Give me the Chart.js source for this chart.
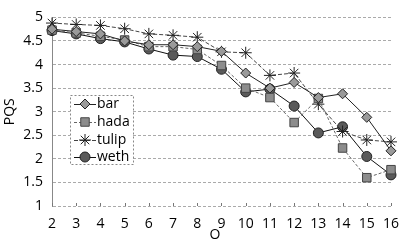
<!DOCTYPE html>
<html>
<head>
<meta charset="utf-8">
<script src="https://cdn.jsdelivr.net/npm/chart.js@4.4.0/dist/chart.umd.min.js"></script>
<style>
  html, body { margin: 0; padding: 0; background: #fff; }
  #wrap { width: 409px; height: 242px; }
</style>
</head>
<body>
<div id="wrap"><canvas id="myChart" width="409" height="242"></canvas></div>
<script>
const xLabels = ['2', '3', '4', '5', '6', '7', '8', '9', '10', '11', '12', '13', '14', '15', '16'];
const barValues = [4.75, 4.70, 4.65, 4.50, 4.42, 4.42, 4.38, 4.28, 3.82, 3.50, 3.62, 3.30, 3.38, 2.88, 2.17];
const hadaValues = [4.73, 4.67, 4.60, 4.52, 4.38, 4.38, 4.32, 3.98, 3.50, 3.30, 2.77, 3.28, 2.23, 1.60, 1.77];
const tulipValues = [4.88, 4.85, 4.83, 4.76, 4.65, 4.62, 4.58, 4.27, 4.25, 3.77, 3.82, 3.16, 2.58, 2.40, 2.36];
const wethValues = [4.72, 4.65, 4.55, 4.48, 4.33, 4.20, 4.17, 3.90, 3.42, 3.48, 3.12, 2.55, 2.68, 2.05, 1.66];
const seriesNames = ['bar', 'hada', 'tulip', 'weth'];
const yTitle = 'PQS';
const xTitle = 'O';

const FONT = "'Open Sans', 'Noto Sans', sans-serif";

// little helper so the legend can draw the same markers as the chart
function drawMarker(ctx, ds, x, y) {
  const opts = {
    pointStyle: ds.pointStyle,
    radius: ds.pointRadius,
    borderWidth: ds.pointBorderWidth,
    rotation: 0
  };
  ctx.save();
  ctx.fillStyle = ds.pointBackgroundColor;
  ctx.strokeStyle = ds.pointBorderColor;
  ctx.lineWidth = ds.pointBorderWidth;
  ctx.setLineDash([]);
  Chart.helpers.drawPoint(ctx, opts, x, y);
  ctx.restore();
}

const extrasPlugin = {
  id: 'extras',
  afterDraw(chart) {
    const ctx = chart.ctx;
    const xs = chart.scales.x;
    const area = chart.chartArea;

    // small tick marks sitting on the bottom axis
    ctx.save();
    ctx.strokeStyle = '#777';
    ctx.lineWidth = 1;
    xLabels.forEach((lab, i) => {
      const px = Math.round(xs.getPixelForValue(i)) + 0.5;
      ctx.beginPath();
      ctx.moveTo(px, area.bottom);
      ctx.lineTo(px, area.bottom - 3);
      ctx.stroke();
    });
    ctx.restore();

    // x axis title, sits a little left of centre and low
    ctx.save();
    ctx.fillStyle = '#000';
    ctx.font = '14px ' + FONT;
    ctx.textAlign = 'center';
    ctx.textBaseline = 'middle';
    ctx.fillText(xTitle, 215, 235);
    ctx.restore();

    // legend box inside the plot
    const bx = 70, by = 95, bw = 63, bh = 69;
    ctx.save();
    ctx.fillStyle = '#fff';
    ctx.fillRect(bx, by, bw, bh);
    ctx.strokeStyle = '#888';
    ctx.lineWidth = 1;
    ctx.setLineDash([2, 2]);
    ctx.strokeRect(bx + 0.5, by + 0.5, bw, bh);
    ctx.restore();

    const rows = [104, 122, 140, 157];
    chart.data.datasets.forEach((ds, i) => {
      const y = rows[i];
      ctx.save();
      ctx.strokeStyle = ds.borderColor;
      ctx.lineWidth = ds.borderWidth;
      ctx.setLineDash(ds.borderDash || []);
      ctx.beginPath();
      ctx.moveTo(74, y + 0.5);
      ctx.lineTo(96, y + 0.5);
      ctx.stroke();
      ctx.restore();
      drawMarker(ctx, ds, 85, y);
      ctx.save();
      ctx.fillStyle = '#000';
      ctx.font = '14px ' + FONT;
      ctx.textAlign = 'left';
      ctx.textBaseline = 'middle';
      ctx.fillText(ds.label, 97, y);
      ctx.restore();
    });
  }
};

const ctx = document.getElementById('myChart').getContext('2d');
new Chart(ctx, {
  type: 'line',
  data: {
    labels: xLabels,
    datasets: [
      {
        label: seriesNames[0],
        data: barValues,
        borderColor: '#222',
        borderWidth: 1,
        pointStyle: 'rectRot',
        pointRadius: 5,
        pointBackgroundColor: '#9a9a9a',
        pointBorderColor: '#222',
        pointBorderWidth: 1
      },
      {
        label: seriesNames[1],
        data: hadaValues,
        borderColor: '#666',
        borderWidth: 1,
        borderDash: [3, 2],
        pointStyle: 'rect',
        pointRadius: 6,
        pointBackgroundColor: '#8c8c8c',
        pointBorderColor: '#444',
        pointBorderWidth: 1
      },
      {
        label: seriesNames[2],
        data: tulipValues,
        borderColor: '#444',
        borderWidth: 1,
        borderDash: [4, 2],
        pointStyle: 'star',
        pointRadius: 6,
        pointBackgroundColor: '#fff',
        pointBorderColor: '#222',
        pointBorderWidth: 1
      },
      {
        label: seriesNames[3],
        data: wethValues,
        borderColor: '#111',
        borderWidth: 1,
        pointStyle: 'circle',
        pointRadius: 5,
        pointBackgroundColor: '#5a5a5a',
        pointBorderColor: '#222',
        pointBorderWidth: 1
      }
    ]
  },
  options: {
    responsive: false,
    animation: false,
    layout: { padding: { top: 17, right: 11, bottom: 0, left: 0 } },
    plugins: {
      legend: { display: false },
      tooltip: { enabled: false }
    },
    scales: {
      x: {
        type: 'category',
        offset: false,
        grid: { display: false, drawTicks: false },
        border: { display: false },
        ticks: {
          color: '#000',
          font: { family: FONT, size: 14 },
          padding: 10,
          maxRotation: 0,
          autoSkip: false
        },
        afterFit(scale) { scale.height = 36; }
      },
      y: {
        min: 1,
        max: 5,
        grid: { color: '#aaa', drawTicks: false },
        border: { display: true, color: '#888', dash: [3, 2] },
        ticks: {
          stepSize: 0.5,
          color: '#000',
          font: { family: FONT, size: 14 },
          padding: 9,
          callback: (v) => String(Math.round(v * 10) / 10)
        },
        title: {
          display: true,
          text: yTitle,
          color: '#000',
          font: { family: FONT, size: 14 },
          padding: { top: 2, bottom: 0 }
        },
        afterFit(scale) { scale.width = 52; }
      }
    }
  },
  plugins: [extrasPlugin]
});
</script>
</body>
</html>
